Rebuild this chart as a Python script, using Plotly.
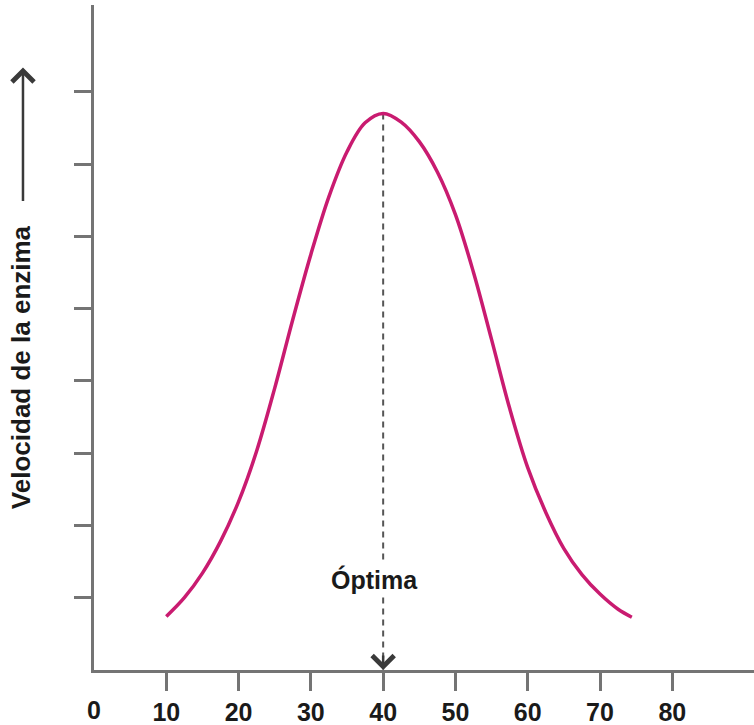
import plotly.graph_objects as go

# Temperature (°C) and relative enzyme velocity along the activity curve
temperatura = [10, 12.5, 15, 17.5, 20, 22.5, 25, 27.5, 30, 32.5, 35, 37.5, 40,
               42.5, 45, 47.5, 50, 52.5, 55, 57.5, 60, 62.5, 65, 67.5, 70, 72.5, 74.4]
velocidad = [0.74, 1.00, 1.34, 1.78, 2.33, 3.03, 3.90, 4.85, 5.75, 6.55, 7.17, 7.57, 7.70,
             7.58, 7.31, 6.89, 6.30, 5.50, 4.57, 3.62, 2.80, 2.18, 1.68, 1.32, 1.05, 0.84, 0.73]

# Optimum temperature and its velocity
t_optima = 40
v_optima = 7.70

x_ticks = [10, 20, 30, 40, 50, 60, 70, 80]
y_ticks = [1, 2, 3, 4, 5, 6, 7, 8]

AXIS = "#747474"
TEXT = "#1a1a1a"
FONT = "Liberation Sans, Arial, sans-serif"
TICK_FONT = dict(family=FONT, size=25, color=TEXT, weight=700)

fig = go.Figure()

# Dashed guide from the peak down to the temperature axis
fig.add_trace(go.Scatter(
    x=[t_optima, t_optima], y=[v_optima, 0],
    mode="lines", line=dict(color="#555555", width=2, dash="6px,5px"),
    hoverinfo="skip", showlegend=False,
))

# Activity curve
fig.add_trace(go.Scatter(
    x=temperatura, y=velocidad,
    mode="lines", line=dict(color="#c91b70", width=3.5, shape="spline", smoothing=1.0),
    showlegend=False,
))

# Lone "0" label at the origin, without a tick mark
fig.add_trace(go.Scatter(x=[0], y=[0], xaxis="x2", mode="markers",
                         marker=dict(opacity=0), showlegend=False, hoverinfo="skip"))

fig.update_layout(
    width=754, height=725,
    margin=dict(l=94, r=0, t=5, b=55),
    paper_bgcolor="white", plot_bgcolor="white",
    xaxis=dict(
        range=[0, 91.3], tickvals=x_ticks, ticktext=[str(v) for v in x_ticks],
        showline=True, linecolor=AXIS, linewidth=2.5,
        ticks="outside", ticklen=18, tickwidth=2.5, tickcolor=AXIS,
        showgrid=False, zeroline=False, tickfont=TICK_FONT,
    ),
    xaxis2=dict(
        range=[0, 91.3], overlaying="x", anchor="y", side="bottom",
        tickvals=[0], ticktext=["0"],
        ticks="outside", ticklen=18, tickwidth=2.5, tickcolor="rgba(0,0,0,0)",
        showline=False, showgrid=False, zeroline=False, tickfont=TICK_FONT,
    ),
    yaxis=dict(
        range=[0, 9.2], tickvals=y_ticks, showticklabels=False,
        showline=True, linecolor=AXIS, linewidth=2.5,
        ticks="outside", ticklen=17, tickwidth=2.5, tickcolor=AXIS,
        showgrid=False, zeroline=False,
    ),
    annotations=[
        # Y-axis title
        dict(text="Velocidad de la enzima", xref="paper", yref="paper",
             x=-0.1095, y=0.455, xanchor="center", yanchor="middle",
             textangle=-90, showarrow=False,
             font=dict(family=FONT, size=26, color=TEXT, weight=700)),
        # Upward arrow beside the Y-axis title
        dict(xref="paper", yref="paper", x=-0.1076, y=0.906,
             ax=0, ay=135, showarrow=True, arrowhead=4, arrowsize=1.7,
             arrowwidth=2.5, arrowcolor="#3a3a3a", text=""),
        # Optimum label over the dashed guide
        dict(text="Óptima", x=t_optima, y=1.25, xshift=-9, showarrow=False,
             bgcolor="white",
             font=dict(family=FONT, size=25, color=TEXT, weight=700)),
        # Arrowhead where the guide meets the axis
        dict(x=t_optima, y=0, ax=0, ay=-16, showarrow=True, arrowhead=4,
             arrowsize=1.7, arrowwidth=2.5, arrowcolor="#3a3a3a", text=""),
    ],
)

fig.write_html("out.html")
